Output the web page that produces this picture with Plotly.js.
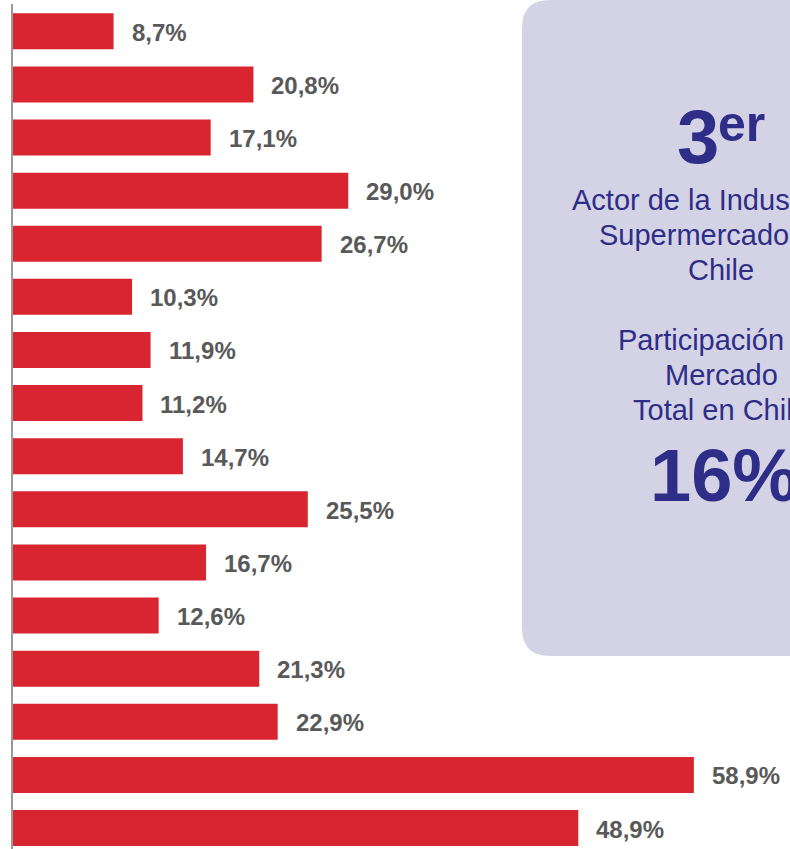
<!DOCTYPE html>
<html>
<head>
<meta charset="utf-8">
<script src="https://cdn.plot.ly/plotly-3.0.1.min.js"></script>
<style>
  html, body { margin: 0; padding: 0; background: #ffffff; }
  #chart { width: 790px; height: 849px; }
</style>
</head>
<body>
<div id="chart"></div>
<script>
// ---- Data ----
const positions = [0, 1, 2, 3, 4, 5, 6, 7, 8, 9, 10, 11, 12, 13, 14, 15];
const shares = [8.7, 20.8, 17.1, 29.0, 26.7, 10.3, 11.9, 11.2, 14.7, 25.5, 16.7, 12.6, 21.3, 22.9, 58.9, 48.9];
const shareLabels = shares.map(v => v.toFixed(1).replace('.', ',') + '%');

const rankNumber = '3';
const rankSuffix = 'er';
const descLines = ['Actor de la Industria de', 'Supermercados en', 'Chile', '', 'Participación de', 'Mercado', 'Total en Chile'];
const totalShare = '16%';

// ---- Layout helpers ----
const W = 790, H = 849;
const M = { l: 13, r: 0, t: 4, b: 0 };
const PW = W - M.l - M.r, PH = H - M.t - M.b;
const px = x => (x - M.l) / PW;
const py = y => (H - M.b - y) / PH;

const barColor = '#d9252f';
const labelColor = '#595959';
const boxFill = '#d4d3e6';
const boxText = '#2e2d87';
const FONT = 'Liberation Sans, Arial, Helvetica, sans-serif';

const traces = [{
  type: 'bar',
  orientation: 'h',
  x: shares,
  y: positions,
  width: 0.678,
  marker: { color: barColor, line: { width: 0 } },
  hoverinfo: 'none'
}];

const annotations = shares.map((v, i) => ({
  x: v, y: positions[i], xref: 'x', yref: 'y',
  text: '<b>' + shareLabels[i] + '</b>',
  showarrow: false, xanchor: 'left', yanchor: 'middle',
  xshift: 16, yshift: -1,
  font: { family: FONT, size: 24, color: labelColor }
}));

// Box text
const cx = 721;
const baselines = [210, 245, 280, 315, 350, 385, 420];
descLines.forEach((t, i) => {
  if (!t) return;
  annotations.push({
    x: px(cx), y: py(baselines[i] - 10), xref: 'paper', yref: 'paper',
    text: t, showarrow: false, xanchor: 'center', yanchor: 'middle',
    font: { family: FONT, size: 29, color: boxText }
  });
});
annotations.push({
  x: px(721), y: py(165 - 29), xref: 'paper', yref: 'paper',
  text: '<b>' + rankNumber + '</b>', showarrow: false, xanchor: 'right', yanchor: 'middle',
  font: { family: FONT, size: 76, color: boxText }
});
annotations.push({
  x: px(716), y: py(142 - 18), xref: 'paper', yref: 'paper',
  text: '<b>' + rankSuffix + '</b>', showarrow: false, xanchor: 'left', yanchor: 'middle',
  font: { family: FONT, size: 50, color: boxText }
});
annotations.push({
  x: px(724), y: py(500 - 25), xref: 'paper', yref: 'paper',
  text: '<b>' + totalShare + '</b>', showarrow: false, xanchor: 'center', yanchor: 'middle',
  font: { family: FONT, size: 74, color: boxText }
});

// Rounded box path
const bx0 = 522, bx1 = 940, by0 = 0, by1 = 656, r = 28;
const boxPath = [
  'M', px(bx0 + r), py(by0),
  'L', px(bx1), py(by0),
  'L', px(bx1), py(by1),
  'L', px(bx0 + r), py(by1),
  'Q', px(bx0), py(by1), px(bx0), py(by1 - r),
  'L', px(bx0), py(by0 + r),
  'Q', px(bx0), py(by0), px(bx0 + r), py(by0),
  'Z'
].join(' ');

const layout = {
  width: W, height: H,
  margin: M,
  paper_bgcolor: '#ffffff',
  plot_bgcolor: '#ffffff',
  showlegend: false,
  xaxis: {
    range: [0, PW / 11.56],
    showgrid: false, zeroline: false, showticklabels: false, ticks: '', showline: false,
    fixedrange: true
  },
  yaxis: {
    range: [15 + 21 / 53.11, -27.3 / 53.11],
    showgrid: false, zeroline: false, showticklabels: false, ticks: '',
    showline: true, linecolor: '#9a9a9a', linewidth: 2,
    fixedrange: true
  },
  shapes: [{
    type: 'path', xref: 'paper', yref: 'paper', path: boxPath,
    fillcolor: boxFill, line: { width: 0 }, layer: 'below'
  }],
  annotations: annotations
};

Plotly.newPlot('chart', traces, layout, { displayModeBar: false, staticPlot: true });
</script>
</body>
</html>
